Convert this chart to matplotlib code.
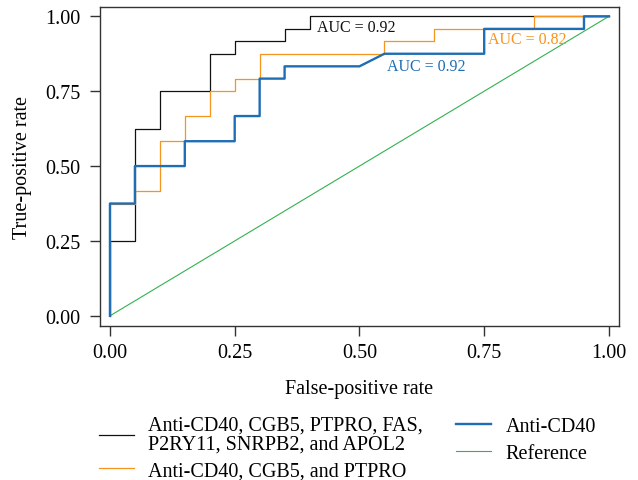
import matplotlib
matplotlib.use("Agg")
import matplotlib.pyplot as plt

plt.rcParams['font.family'] = ['Liberation Serif', 'DejaVu Serif']

# ROC curve vertices
fpr_seven = [0, 0, 0.05, 0.05, 0.10, 0.10, 0.20, 0.20, 0.25, 0.25, 0.35, 0.35, 0.40, 0.40, 1.0]
tpr_seven = [0, 0.25, 0.25, 0.625, 0.625, 0.75, 0.75, 0.875, 0.875, 0.917, 0.917, 0.958, 0.958, 1.0, 1.0]

fpr_three = [0, 0, 0.05, 0.05, 0.10, 0.10, 0.15, 0.15, 0.20, 0.20, 0.25, 0.25, 0.30, 0.30,
             0.55, 0.55, 0.65, 0.65, 0.85, 0.85, 1.0]
tpr_three = [0, 0.375, 0.375, 0.417, 0.417, 0.583, 0.583, 0.667, 0.667, 0.75, 0.75, 0.792, 0.792, 0.875,
             0.875, 0.917, 0.917, 0.958, 0.958, 1.0, 1.0]

fpr_cd40 = [0, 0, 0.05, 0.05, 0.15, 0.15, 0.25, 0.25, 0.30, 0.30, 0.35, 0.35, 0.50, 0.55,
            0.75, 0.75, 0.95, 0.95, 1.0]
tpr_cd40 = [0, 0.375, 0.375, 0.5, 0.5, 0.583, 0.583, 0.667, 0.667, 0.792, 0.792, 0.833, 0.833, 0.875,
            0.875, 0.958, 0.958, 1.0, 1.0]

fpr_ref = [0, 1]
tpr_ref = [0, 1]

labels = ['Anti-CD40, CGB5, PTPRO, FAS,\nP2RY11, SNRPB2, and APOL2',
          'Anti-CD40, CGB5, and PTPRO',
          'Anti-CD40',
          'Reference']
auc_text = ['AUC = 0.92', 'AUC = 0.82', 'AUC = 0.92']
ticks = [0.0, 0.25, 0.5, 0.75, 1.0]

c_black = '#111111'
c_orange = '#F7941D'
c_blue = '#1F6DB4'
c_green = '#33B24F'

fig = plt.figure(figsize=(6.38, 4.81), dpi=100)
ax = fig.add_axes([0.1567, 0.3195, 0.813, 0.6638])

l4, = ax.plot(fpr_ref, tpr_ref, color=c_green, lw=0.8)
l1, = ax.plot(fpr_seven, tpr_seven, color=c_black, lw=0.9)
l2, = ax.plot(fpr_three, tpr_three, color=c_orange, lw=0.9)
l3, = ax.plot(fpr_cd40, tpr_cd40, color=c_blue, lw=1.7)

ax.text(0.414, 0.965, auc_text[0], color=c_black, fontsize=11.5, va='center', ha='left')
ax.text(0.758, 0.924, auc_text[1], color=c_orange, fontsize=11.5, va='center', ha='left')
ax.text(0.556, 0.835, auc_text[2], color=c_blue, fontsize=11.5, va='center', ha='left')

ax.set_xlim(-0.020, 1.0195)
ax.set_ylim(-0.035, 1.031)
ax.set_xticks(ticks)
ax.set_yticks(ticks)
ax.set_xticklabels([f'{t:.2f}' for t in ticks])
ax.set_yticklabels([f'{t:.2f}' for t in ticks])
ax.tick_params(length=7.2, width=1.0, labelsize=14.5, color='#333333')
ax.tick_params(axis='y', pad=7)
ax.tick_params(axis='x', pad=5)
for s in ax.spines.values():
    s.set_linewidth(1.0)
    s.set_color('#333333')

ax.set_xlabel('False-positive rate', fontsize=14.5)
ax.set_ylabel('True-positive rate', fontsize=14.5)
ax.xaxis.set_label_coords(0.5, -0.165)
ax.yaxis.set_label_coords(-0.131, 0.5)

# two legend columns placed separately so the right one starts at the top
leg_opts = dict(loc='upper left', frameon=False, fontsize=14.5, borderpad=0,
                handlelength=1.75, handletextpad=0.7)
leg1 = fig.legend([l1, l2], labels[:2], bbox_to_anchor=(0.139, 0.154),
                  labelspacing=0.38, **leg_opts)
for t in leg1.get_texts():
    t.set_linespacing(0.98)
leg2 = fig.legend([l3, l4], labels[2:], bbox_to_anchor=(0.699, 0.152),
                  labelspacing=0.38, **leg_opts)

fig.savefig('out.png', dpi=100)
